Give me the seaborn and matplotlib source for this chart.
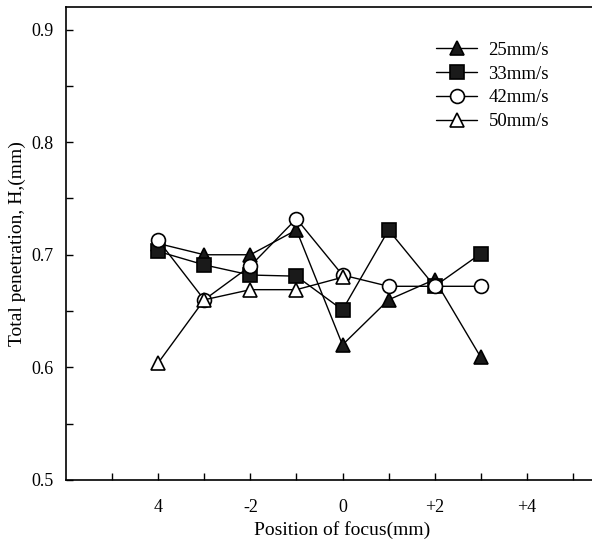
import matplotlib
matplotlib.use("Agg")
import matplotlib.pyplot as plt
import seaborn as sns
import pandas as pd

# data
pos = [-4, -3, -2, -1, 0, 1, 2, 3]
v25 = [0.71, 0.70, 0.70, 0.722, 0.62, 0.66, 0.678, 0.609]
v33 = [0.703, 0.691, 0.682, 0.681, 0.651, 0.722, 0.672, 0.701]
v42 = [0.713, 0.66, 0.69, 0.732, 0.682, 0.672, 0.672, 0.672]
pos50 = [-4, -3, -2, -1, 0]
v50 = [0.604, 0.66, 0.669, 0.669, 0.68]

xticks = [-4, -2, 0, 2, 4]
xticklabels = ["4", "-2", "0", "+2", "+4"]
yticks = [0.5, 0.6, 0.7, 0.8, 0.9]

sns.set_theme(style="ticks")
plt.rcParams['font.family'] = ['Liberation Serif', 'DejaVu Serif']

fig = plt.figure(figsize=(5.92, 5.42), dpi=100)
ax = fig.add_axes([66 / 592, 62 / 542, (619 - 66) / 592, (480 - 7) / 542])

series = [
    (pos, v25, '^', 'k', '25mm/s'),
    (pos, v33, 's', 'k', '33mm/s'),
    (pos, v42, 'o', 'white', '42mm/s'),
    (pos50, v50, '^', 'white', '50mm/s'),
]
for xs, ys, m, fc, lab in series:
    df = pd.DataFrame({'x': xs, 'y': ys})
    sns.lineplot(data=df, x='x', y='y', ax=ax, sort=False, color='black',
                 linewidth=1.0, marker=m, markersize=10, markerfacecolor=fc,
                 markeredgecolor='black', markeredgewidth=1.2, label=lab)

ax.set_xlim(-6, 6)
ax.set_ylim(0.5, 0.92)
ax.set_xticks(range(-5, 6), minor=True)
ax.set_xticks(xticks)
ax.set_xticklabels(xticklabels)
ax.set_yticks([0.55, 0.65, 0.75, 0.85], minor=True)
ax.set_yticks(yticks)
ax.set_yticklabels([f"{t:.1f}" for t in yticks])
ax.tick_params(which='both', direction='in', length=5, width=1, colors='black',
               labelsize=13)
ax.tick_params(axis='x', pad=14)
ax.tick_params(axis='y', pad=9)
for s in ax.spines.values():
    s.set_color('black')
    s.set_linewidth(1.2)

ax.set_xlabel("Position of focus(mm)", fontsize=14, color='black', labelpad=3)
ax.set_ylabel("Total penetration, H,(mm)", fontsize=14, color='black', labelpad=4)

leg = ax.legend(loc='upper left', bbox_to_anchor=(419 / 592, 1 - 25 / 542),
                bbox_transform=fig.transFigure, frameon=False, fontsize=13.5,
                handlelength=2.2, handletextpad=0.6, labelspacing=0.35)
for t in leg.get_texts():
    t.set_color('black')

fig.savefig("out.png", dpi=100)
